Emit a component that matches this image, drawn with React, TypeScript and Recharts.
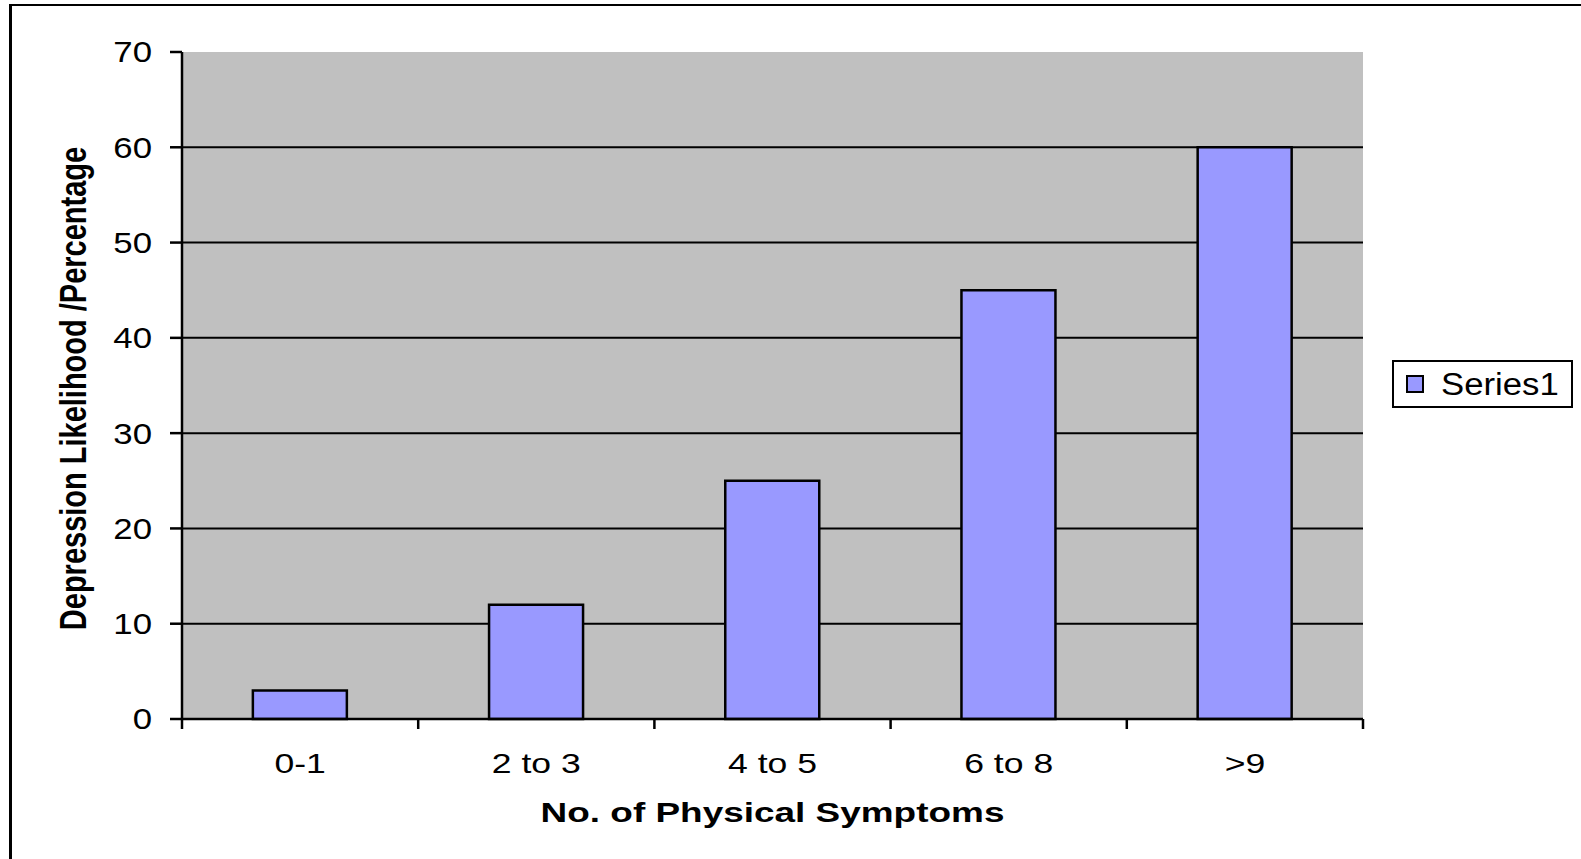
import React from 'react';
import { BarChart, Bar, XAxis, YAxis, CartesianGrid, Legend } from 'recharts';

const categories: string[] = ['0-1', '2 to 3', '4 to 5', '6 to 8', '>9'];
const seriesValues: number[] = [3, 12, 25, 45, 60];
const yTicks: number[] = [0, 10, 20, 30, 40, 50, 60, 70];
const seriesName = 'Series1';
const xTitle = 'No. of Physical Symptoms';
const yTitle = 'Depression Likelihood /Percentage';

const data = categories.map((c, i) => ({ name: c, value: seriesValues[i] }));

const FONT = '"Liberation Sans", Arial, Helvetica, sans-serif';

function XTick(props: any) {
  const { x, y, payload, index, visibleTicksCount } = props;
  const off = payload && payload.offset != null ? payload.offset : 0;
  const left = payload.coordinate - off;
  const right = payload.coordinate + off;
  return (
    <g>
      <line x1={left} x2={left} y1={y - 10} y2={y} stroke="#000" strokeWidth={2.5} />
      {index === visibleTicksCount - 1 && (
        <line x1={right} x2={right} y1={y - 10} y2={y} stroke="#000" strokeWidth={2.5} />
      )}
      <text
        transform={`translate(${x},${y + 44}) scale(1.27,1)`}
        textAnchor="middle"
        fontSize={28}
        fontFamily={FONT}
        fill="#000"
      >
        {payload.value}
      </text>
    </g>
  );
}

function YTick(props: any) {
  const { x, y, payload } = props;
  return (
    <text
      transform={`translate(${x},${y}) scale(1.2,1)`}
      textAnchor="end"
      dy="0.36em"
      fontSize={29}
      fontFamily={FONT}
      fill="#000"
    >
      {payload.value}
    </text>
  );
}

function XTitle(props: any) {
  const vb = props.viewBox || { x: 0, y: 0, width: 0, height: 0 };
  const cx = vb.x + vb.width / 2;
  return (
    <text
      transform={`translate(${cx},${vb.y + 103}) scale(1.32,1)`}
      textAnchor="middle"
      fontSize={28}
      fontWeight="bold"
      fontFamily={FONT}
      fill="#000"
    >
      {xTitle}
    </text>
  );
}

function YTitle(props: any) {
  const vb = props.viewBox || { x: 0, y: 0, width: 0, height: 0 };
  const cy = vb.y + vb.height / 2 + 3;
  return (
    <text
      transform={`translate(${vb.x + 4},${cy}) scale(1.3,1) rotate(-90)`}
      textAnchor="middle"
      fontSize={29}
      fontWeight="bold"
      fontFamily={FONT}
      fill="#000"
    >
      {yTitle}
    </text>
  );
}

function LegendBox() {
  return (
    <div
      style={{
        boxSizing: 'border-box',
        width: 181,
        height: 48,
        border: '2px solid #000',
        background: '#fff',
        display: 'flex',
        alignItems: 'center',
        paddingLeft: 12,
      }}
    >
      <div
        style={{
          boxSizing: 'border-box',
          width: 18,
          height: 18,
          background: '#9999FF',
          border: '2px solid #000',
          marginRight: 17,
        }}
      />
      <span
        style={{
          display: 'inline-block',
          fontFamily: FONT,
          fontSize: 31,
          lineHeight: '31px',
          color: '#000',
          transform: 'scale(1.12,1)',
          transformOrigin: 'left center',
          whiteSpace: 'nowrap',
        }}
      >
        {seriesName}
      </span>
    </div>
  );
}

export default function App() {
  return (
    <div
      style={{
        position: 'absolute',
        left: 0,
        top: 0,
        width: 1581,
        height: 859,
        overflow: 'hidden',
        background: '#fff',
      }}
    >
      <div
        style={{
          position: 'absolute',
          left: 9,
          top: 4,
          width: 1700,
          height: 1000,
          borderLeft: '3px solid #000',
          borderTop: '2.5px solid #000',
        }}
      />
      <div style={{ position: 'absolute', left: 0, top: 0 }}>
        <BarChart
          width={1581}
          height={859}
          data={data}
          margin={{ top: 52, right: 218, bottom: 80, left: 82 }}
          barCategoryGap="30%"
        >
          <CartesianGrid
            vertical={false}
            horizontalValues={[10, 20, 30, 40, 50, 60]}
            stroke="#000"
            strokeWidth={2}
            fill="#C0C0C0"
            fillOpacity={1}
          />
          <XAxis
            xAxisId="top"
            orientation="top"
            dataKey="name"
            height={0}
            tick={false}
            tickLine={false}
            axisLine={{ stroke: '#808080', strokeWidth: 3 }}
          />
          <YAxis
            yAxisId="right"
            orientation="right"
            width={0}
            domain={[0, 70]}
            ticks={yTicks}
            tick={false}
            tickLine={false}
            axisLine={{ stroke: '#808080', strokeWidth: 3 }}
          />
          <XAxis
            dataKey="name"
            height={60}
            tickSize={10}
            tickMargin={0}
            tickLine={false}
            interval={0}
            tick={<XTick />}
            axisLine={{ stroke: '#000', strokeWidth: 2.5 }}
            label={{ content: <XTitle /> } as any}
          />
          <YAxis
            width={100}
            domain={[0, 70]}
            ticks={yTicks}
            interval={0}
            tickSize={12}
            tickMargin={18}
            tick={<YTick />}
            tickLine={{ stroke: '#000', strokeWidth: 2.5 }}
            axisLine={{ stroke: '#000', strokeWidth: 2.5 }}
            label={{ content: <YTitle /> } as any}
          />
          <Bar
            dataKey="value"
            name={seriesName}
            fill="#9999FF"
            stroke="#000"
            strokeWidth={2.5}
            isAnimationActive={false}
          />
          <Legend
            layout="vertical"
            align="center"
            verticalAlign="middle"
            content={<LegendBox />}
            wrapperStyle={{ left: 1392, top: 360, width: 181, height: 48, margin: 0 }}
          />
        </BarChart>
      </div>
    </div>
  );
}
